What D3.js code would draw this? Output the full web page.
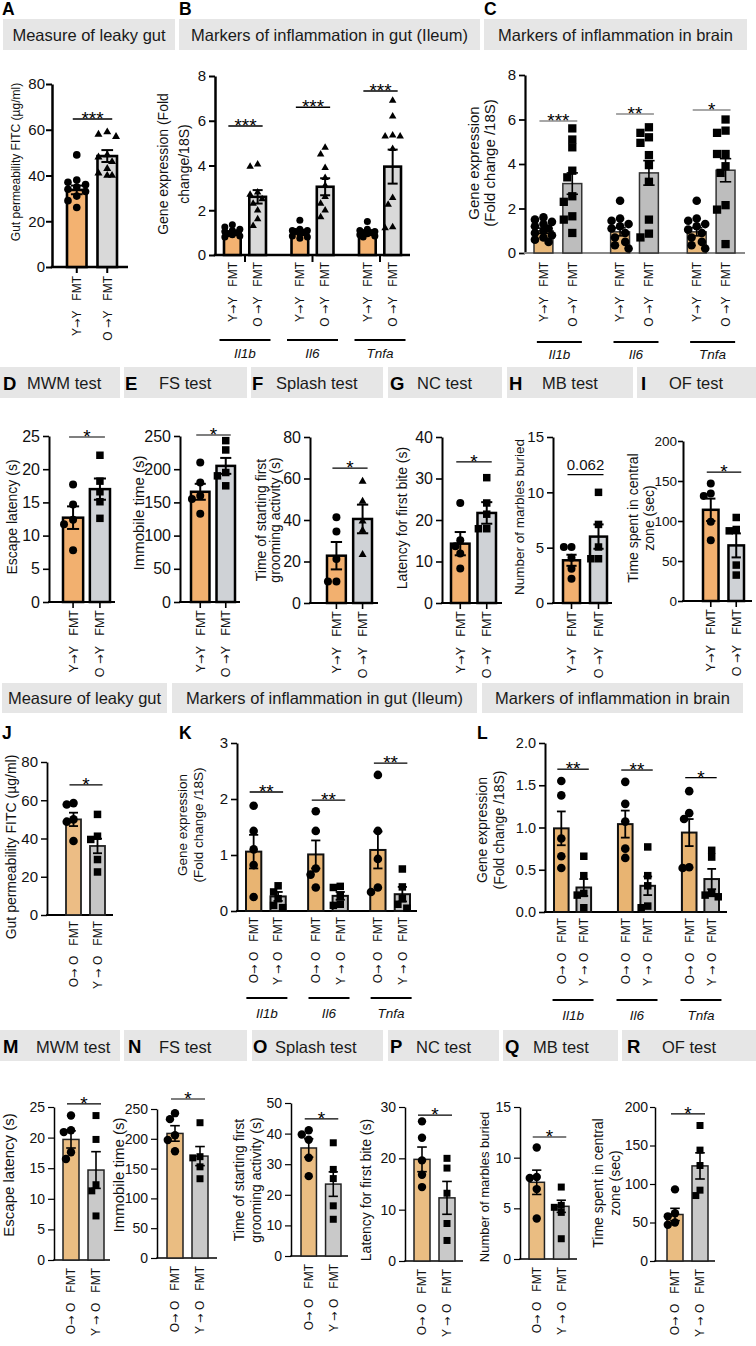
<!DOCTYPE html>
<html><head><meta charset="utf-8">
<script src="https://cdn.jsdelivr.net/npm/d3@7"></script>
<style>body{margin:0;background:#fff;} svg{display:block;}</style>
</head><body><div id="chart"></div>
<script>
// ================= DATA =================
const row1Headers = ["Measure of leaky gut", "Markers of inflammation in gut (Ileum)", "Markers of inflammation in brain"];
const row1Letters = ["A", "B", "C"];
const row2Letters = ["D", "E", "F", "G", "H", "I"];
const testNames = ["MWM test", "FS test", "Splash test", "NC test", "MB test", "OF test"];
const row3Letters = ["J", "K", "L"];
const row4Letters = ["M", "N", "O", "P", "Q", "R"];
const condsYoungRecip = ["Y\u2192Y   FMT", "O \u2192Y   FMT"];
const condsOldRecip = ["O\u2192 O   FMT", "Y \u2192 O   FMT"];
const genes = ["Il1b", "Il6", "Tnfa"];

// A
const A_ticks = [0, 20, 40, 60, 80];
const A_means = [33.7, 48.5];
const A_sems = [1.9, 2.6];
const A_ptsYY = [49, 38, 37, 36, 35, 34, 33, 31, 29, 26];
const A_ptsOY = [59, 58, 57, 49, 48, 46, 43, 41, 40, 40];
// B
const B_ticks = [0, 2, 4, 6, 8];
const B_meansYY = [1.0, 1.05, 1.03];
const B_semsYY = [0.06, 0.08, 0.07];
const B_meansOY = [2.6, 3.05, 3.95];
const B_semsOY = [0.3, 0.38, 0.76];
const B_ptsYY = [[1.35, 1.25, 1.15, 1.1, 1.05, 1.0, 0.95, 0.9, 0.85, 0.8], [1.55, 1.15, 1.1, 1.1, 1.05, 1.0, 0.95, 0.85, 0.8, 0.75], [1.5, 1.15, 1.1, 1.05, 1.0, 1.0, 0.95, 0.9, 0.85, 0.8]];
const B_ptsOY = [[4.05, 3.95, 2.8, 2.7, 2.5, 2.3, 2.0, 1.6, 1.3], [4.8, 4.5, 3.9, 3.45, 3.1, 2.6, 2.3, 2.0, 1.7], [6.9, 6.2, 5.35, 5.3, 5.3, 4.75, 2.55, 2.25, 1.25, 1.2]];
const B_sig = ["***", "***", "***"];
// C
const C_ticks = [0, 2, 4, 6, 8];
const C_meansYY = [1.0, 0.95, 0.95];
const C_semsYY = [0.12, 0.18, 0.18];
const C_meansOY = [3.12, 3.6, 3.72];
const C_semsOY = [0.48, 0.55, 0.52];
const C_ptsYY = [[1.6, 1.5, 1.4, 1.3, 1.2, 1.1, 1.0, 0.9, 0.8, 0.7, 0.6, 0.5], [2.35, 1.55, 1.45, 1.3, 1.2, 1.1, 0.9, 0.7, 0.5, 0.35, 0.2], [2.35, 1.55, 1.45, 1.3, 1.2, 1.05, 0.9, 0.7, 0.5, 0.35, 0.2]];
const C_ptsOY = [[5.6, 5.1, 4.75, 3.7, 3.4, 2.55, 2.3, 1.65, 1.5, 0.9], [5.65, 5.4, 5.2, 4.95, 4.4, 3.95, 3.2, 1.5, 0.87, 0.7], [6.0, 5.5, 5.4, 4.45, 4.45, 3.9, 3.6, 2.15, 1.95, 0.4]];
const C_sig = ["***", "**", "*"];
// D
const D_ticks = [0, 5, 10, 15, 20, 25];
const D_means = [12.7, 17.0], D_sems = [1.7, 1.6];
const D_ptsYY = [17.7, 14.7, 12.4, 11.7, 7.8], D_ptsOY = [22.1, 18.2, 16.6, 15.1, 12.6];
// E
const E_ticks = [0, 50, 100, 150, 200, 250];
const E_means = [166, 205], E_sems = [12, 12];
const E_ptsYY = [210, 180, 160, 155, 133], E_ptsOY = [243, 229, 195, 190, 175];
// F
const F_ticks = [0, 20, 40, 60, 80];
const F_means = [22.8, 40.5], F_sems = [6.6, 6.9];
const F_ptsYY = [41.3, 34.5, 21.2, 10.4, 10.4], F_ptsOY = [58.6, 49, 39.4, 35, 23.3];
// G
const G_ticks = [0, 10, 20, 30, 40];
const G_means = [14.3, 21.7], G_sems = [2.8, 2.6];
const G_ptsYY = [24.1, 15.1, 13.7, 11.9, 8.3], G_ptsOY = [30.2, 24.1, 21.4, 17.9, 17.9];
// H
const H_ticks = [0, 5, 10, 15];
const H_means = [3.86, 6.0], H_sems = [0.5, 1.1];
const H_ptsYY = [5.06, 5.06, 4.1, 3.1, 2.2], H_ptsOY = [10, 7.1, 5.06, 4.0, 4.0];
// I
const I_ticks = [0, 50, 100, 150, 200];
const I_means = [114, 69.5], I_sems = [14, 15];
const I_ptsYY = [146.8, 134.3, 131.4, 99, 76], I_ptsOY = [104.4, 89.4, 87.7, 44.9, 32.4];
// J
const J_ticks = [0, 20, 40, 60, 80];
const J_means = [50, 36.1], J_sems = [3.5, 3.8];
const J_ptsOO = [58.5, 57.8, 50, 48.8, 38.7], J_ptsYO = [52.6, 41.2, 39.5, 29, 22.5];
// K
const K_ticks = [0, 1, 2, 3];
const K_meansOO = [1.06, 1.01, 1.09], K_semsOO = [0.3, 0.25, 0.33];
const K_meansYO = [0.26, 0.27, 0.3], K_semsYO = [0.08, 0.07, 0.13];
const K_ptsOO = [[1.88, 1.43, 1.1, 0.82, 0.25], [1.78, 1.43, 0.76, 0.65, 0.42], [2.43, 1.43, 0.93, 0.42, 0.34]];
const K_ptsYO = [[0.45, 0.34, 0.22, 0.1, 0.06], [0.44, 0.42, 0.28, 0.12, 0.1], [0.75, 0.43, 0.22, 0.12, 0.05]];
const K_sig = ["**", "**", "**"];
// L
const L_ticks = [0, 0.5, 1, 1.5, 2];
const L_meansOO = [0.99, 1.04, 0.94], L_semsOO = [0.2, 0.16, 0.16];
const L_meansYO = [0.29, 0.31, 0.39], L_semsYO = [0.1, 0.11, 0.12];
const L_ptsOO = [[1.55, 1.38, 0.87, 0.66, 0.52], [1.54, 1.28, 1.07, 0.75, 0.64], [1.43, 1.17, 1.1, 0.53, 0.52]];
const L_ptsYO = [[0.66, 0.43, 0.22, 0.2, 0.05], [0.77, 0.43, 0.31, 0.07, 0.05], [0.73, 0.65, 0.22, 0.2, 0.18]];
const L_sig = ["**", "**", "*"];
// M
const M_ticks = [0, 5, 10, 15, 20, 25];
const M_means = [19.7, 14.7], M_sems = [1.4, 3.0];
const M_ptsOO = [23.6, 21.2, 20.9, 17.6, 16.5], M_ptsYO = [23.6, 19.7, 12.3, 11.3, 7.2];
// N
const N_ticks = [0, 50, 100, 150, 200, 250];
const N_means = [209, 171], N_sems = [13, 16];
const N_ptsOO = [243, 233, 206, 198, 179], N_ptsYO = [227, 170, 168, 153, 133];
// O
const O_ticks = [0, 10, 20, 30, 40, 50];
const O_means = [35.3, 23.5], O_sems = [3.0, 4.0];
const O_ptsOO = [41.1, 39.7, 38, 32.1, 26.1], O_ptsYO = [37, 28.3, 25.3, 16.4, 12];
// P
const P_ticks = [0, 10, 20, 30];
const P_means = [19.8, 12.3], P_sems = [2.4, 3.2];
const P_ptsOO = [27.2, 24, 19.6, 16.8, 14.4], P_ptsYO = [20, 18.1, 13.2, 7.3, 4.0];
// Q
const Q_ticks = [0, 5, 10, 15];
const Q_means = [7.57, 5.2], Q_sems = [1.2, 0.6];
const Q_ptsOO = [11, 8.1, 8.0, 6.9, 4.0], Q_ptsYO = [7.1, 5.3, 5.1, 4.6, 2.0];
// R
const R_ticks = [0, 50, 100, 150, 200];
const R_means = [60.4, 123.5], R_sems = [8, 17];
const R_ptsOO = [93, 62, 58, 50, 47], R_ptsYO = [176, 144, 124, 92, 85];

// ================= STYLE / LAYOUT =================
const FONT = "'Liberation Sans', Arial, Helvetica, sans-serif";
const ARROW_FONT = "'DejaVu Sans', sans-serif";
const svg = d3.select("#chart").append("svg").attr("width", 756).attr("height", 1346)
  .style("font-family", FONT);

const ST1 = {fills: ["#F3B271", "#D9D9D9"], stroke: "#000", strokeW: 2.6, axisW: 2.5, xAxis: "#000", errW: 2, sigColor: "#000", sigW: 1.5, star: 19};
const ST1C = {fills: ["#E9B97A", "#BDBDBD"], stroke: "#333", strokeW: 1.5, axisW: 2.2, xAxis: "#8a8a8a", errW: 1.6, sigColor: "#8a8a8a", sigW: 1.6, star: 19};
const ST2 = {fills: ["#F2B06F", "#CFD2D6"], stroke: "#000", strokeW: 2.5, axisW: 2, xAxis: "#000", errW: 2, sigColor: "#000", sigW: 1.2, star: 19};
const ST3J = {fills: ["#ECBD85", "#C6C6C6"], stroke: "#222", strokeW: 1.8, axisW: 1.8, xAxis: "#000", errW: 1.8, sigColor: "#000", sigW: 1.2, star: 19};
const ST3 = {fills: ["#E8B472", "#BFBFBF"], stroke: "#111", strokeW: 2, axisW: 2, xAxis: "#000", errW: 1.8, sigColor: "#000", sigW: 1.3, star: 19};
const ST4 = {fills: ["#EABD82", "#C9C9C9"], stroke: "#222", strokeW: 1.5, axisW: 1.5, xAxis: "#000", errW: 1.6, sigColor: "#000", sigW: 1.2, star: 19};

function simple(means, sems, p1, p2, sig) {
  return [{means: means, sems: sems, pts: [p1, p2], sig: sig}];
}
function grouped(m1, s1, m2, s2, p1, p2, sig) {
  return d3.range(m1.length).map(i => ({means: [m1[i], m2[i]], sems: [s1[i], s2[i]], pts: [p1[i], p2[i]], sig: sig[i]}));
}

const symGen = {
  circle: r => d3.symbol().type(d3.symbolCircle).size(Math.PI * r * r)(),
  square: s => d3.symbol().type(d3.symbolSquare).size(s * s)(),
  triangle: s => d3.symbol().type(d3.symbolTriangle).size(Math.sqrt(3) / 4 * s * s)()
};

function swarm(vals, y, cx, maxHalf, diam) {
  const items = vals.map(v => ({v: v, py: y(v)})).sort((a, b) => a.py - b.py);
  const placed = [];
  const step = diam * 0.6;
  items.forEach(it => {
    let best = null, bestD = -1;
    for (let k = 0; k < 12; k++) {
      const mag = Math.ceil(k / 2) * step * (k % 2 === 1 ? -1 : 1);
      const off = Math.max(-maxHalf, Math.min(maxHalf, mag));
      let minD = Infinity;
      placed.forEach(p => { minD = Math.min(minD, Math.hypot(p.px - (cx + off), p.py - it.py)); });
      if (minD >= diam * 0.9) { best = off; break; }
      if (minD > bestD) { bestD = minD; best = off; }
    }
    it.px = cx + best;
    placed.push(it);
  });
  return placed;
}

function arrowText(sel, label) {
  const parts = label.split("\u2192");
  parts.forEach((p, i) => {
    if (i > 0) sel.append("tspan").attr("font-family", ARROW_FONT).attr("font-size", "0.95em").text("\u2192");
    sel.append("tspan").text(p);
  });
}

function drawPanel(P, D) {
  const S = P.style;
  const g = svg.append("g");
  const y = d3.scaleLinear().domain([0, D.ticks[D.ticks.length - 1]]).range([P.yBot, P.yTop]);
  const keys = D.groups.map((d, i) => i);
  const outer = d3.scaleBand().domain(keys).range(P.range).paddingInner(P.gPad || 0).paddingOuter(0);
  const inner = d3.scaleBand().domain([0, 1]).range([0, outer.bandwidth()]).paddingInner(P.iPad);
  const bw = inner.bandwidth();
  const cx = (gi, ci) => outer(gi) + inner(ci) + bw / 2;

  const yAxis = d3.axisLeft(y).tickValues(D.ticks).tickSize(P.tickSize || 6).tickSizeOuter(0)
    .tickPadding(P.tickPad !== undefined ? P.tickPad : 3)
    .tickFormat(D.fmt ? d3.format(D.fmt) : d3.format("d"));
  const ga = g.append("g").attr("transform", `translate(${P.ax},0)`).call(yAxis);
  ga.attr("font-family", FONT).attr("font-size", P.tickFont);
  ga.select(".domain").attr("stroke", "#000").attr("stroke-width", S.axisW);
  ga.selectAll(".tick line").attr("stroke", "#000").attr("stroke-width", S.axisW * 0.8);
  ga.selectAll(".tick text").attr("fill", "#111");

  g.append("line").attr("x1", P.ax - S.axisW / 2).attr("x2", P.axEnd).attr("y1", P.yBot).attr("y2", P.yBot)
    .attr("stroke", S.xAxis).attr("stroke-width", S.axisW);
  if (P.xTicks === "bars") {
    keys.forEach(gi => [0, 1].forEach(ci => {
      g.append("line").attr("x1", cx(gi, ci)).attr("x2", cx(gi, ci)).attr("y1", P.yBot).attr("y2", P.yBot + 6)
        .attr("stroke", "#000").attr("stroke-width", S.axisW * 0.8);
    }));
  } else if (P.xTicks === "groups") {
    keys.forEach(gi => {
      const c = outer(gi) + outer.bandwidth() / 2;
      g.append("line").attr("x1", c).attr("x2", c).attr("y1", P.yBot).attr("y2", P.yBot + 7)
        .attr("stroke", "#000").attr("stroke-width", S.axisW * 0.8);
    });
  }

  D.groups.forEach((grp, gi) => {
    [0, 1].forEach(ci => {
      g.append("rect").attr("x", outer(gi) + inner(ci)).attr("width", bw)
        .attr("y", y(grp.means[ci])).attr("height", y(0) - y(grp.means[ci]))
        .attr("fill", S.fills[ci]).attr("stroke", S.stroke).attr("stroke-width", S.strokeW);
    });
    [0, 1].forEach(ci => {
      const c = cx(gi, ci), cap = bw * 0.3;
      const lo = y(grp.means[ci] - grp.sems[ci]), hi = y(grp.means[ci] + grp.sems[ci]);
      g.append("line").attr("x1", c).attr("x2", c).attr("y1", lo).attr("y2", hi).attr("stroke", "#000").attr("stroke-width", S.errW);
      [lo, hi].forEach(yy => g.append("line").attr("x1", c - cap).attr("x2", c + cap).attr("y1", yy).attr("y2", yy)
        .attr("stroke", "#000").attr("stroke-width", S.errW));
    });
    [0, 1].forEach(ci => {
      const shape = P.shapes[ci];
      const sz = P.sizes[ci];
      const diam = shape === "circle" ? sz * 2 : sz;
      const pts = swarm(grp.pts[ci], y, cx(gi, ci), bw * 0.45, diam);
      g.selectAll(null).data(pts).enter().append("path")
        .attr("d", symGen[shape](sz))
        .attr("transform", d => `translate(${d.px},${d.py})`)
        .attr("fill", "#000");
    });
    const sy = y(P.sigAt[gi]);
    const x1 = cx(gi, 0) - 4, x2 = cx(gi, 1) + 5;
    g.append("line").attr("x1", x1).attr("x2", x2).attr("y1", sy).attr("y2", sy)
      .attr("stroke", S.sigColor).attr("stroke-width", S.sigW);
    if (/^\*+$/.test(grp.sig)) {
      g.append("text").attr("x", (x1 + x2) / 2).attr("y", sy + 6).attr("text-anchor", "middle")
        .attr("font-size", S.star).attr("fill", "#000").text(grp.sig);
    } else {
      g.append("text").attr("x", (x1 + x2) / 2).attr("y", sy - 5).attr("text-anchor", "middle")
        .attr("font-size", 15).attr("fill", "#111").text(grp.sig);
    }
    [0, 1].forEach(ci => {
      const t = g.append("text").attr("transform", `translate(${cx(gi, ci)},${P.yBot + P.labelGap}) rotate(-90)`)
        .attr("text-anchor", "end").attr("dy", "0.36em").attr("font-size", P.labelFont).attr("fill", "#111")
        .style("white-space", "pre");
      arrowText(t, D.conds[ci]);
    });
    if (P.gene) {
      const c = outer(gi) + outer.bandwidth() / 2 + (P.gene.shift || 0);
      g.append("line").attr("x1", c - P.gene.half).attr("x2", c + P.gene.half).attr("y1", P.gene.lineY).attr("y2", P.gene.lineY)
        .attr("stroke", "#000").attr("stroke-width", 2);
      g.append("text").attr("x", c).attr("y", P.gene.textY).attr("text-anchor", "middle")
        .attr("font-size", 13.5).attr("font-style", "italic").attr("fill", "#111").text(D.genes[gi]);
    }
  });

  D.title.forEach((t, i) => {
    g.append("text").attr("transform", `translate(${P.titleX[i]},${P.titleY}) rotate(-90)`)
      .attr("text-anchor", "middle").attr("dy", "0.36em").attr("font-size", P.titleFont).attr("fill", "#111").text(t);
  });
}

// ================= HEADERS =================
function headerBox(x0, x1, y0, y1) {
  svg.append("rect").attr("x", x0).attr("y", y0).attr("width", x1 - x0).attr("height", y1 - y0).attr("fill", "#E6E6E6");
}
function bigLetter(t, x, y, fs) {
  svg.append("text").attr("x", x).attr("y", y).attr("font-size", fs).attr("font-weight", "bold").attr("fill", "#000").text(t);
}
const r1Boxes = [[3, 175], [179, 480], [484, 747]];
const r3Boxes = [[2, 167], [172, 477], [482, 743]];
r1Boxes.forEach((b, i) => {
  headerBox(b[0], b[1], 19, 50);
  svg.append("text").attr("x", (b[0] + b[1]) / 2).attr("y", 41).attr("text-anchor", "middle").attr("font-size", 16.5).attr("fill", "#1a1a1a").text(row1Headers[i]);
});
[[2, 15], [179, 15], [484, 15]].forEach((p, i) => bigLetter(row1Letters[i], p[0], p[1], 17.5));
r3Boxes.forEach((b, i) => {
  headerBox(b[0], b[1], 683, 713);
  svg.append("text").attr("x", (b[0] + b[1]) / 2).attr("y", 704).attr("text-anchor", "middle").attr("font-size", 16.5).attr("fill", "#1a1a1a").text(row1Headers[i]);
});
[[2, 739], [179, 739], [477, 739]].forEach((p, i) => bigLetter(row3Letters[i], p[0], p[1], 17.5));

const r2Boxes = [[0, 120], [124, 247], [251, 383], [388, 502], [507, 633], [637, 756]];
const r2LetterX = [3, 125, 252, 390, 509, 641];
const r2TextX = [27, 159, 276, 417, 542, 669];
r2Boxes.forEach((b, i) => {
  headerBox(b[0], b[1], 367, 398);
  bigLetter(row2Letters[i], r2LetterX[i], 390, 18.5);
  svg.append("text").attr("x", r2TextX[i]).attr("y", 389).attr("font-size", 16.5).attr("fill", "#1a1a1a").text(testNames[i]);
});
const r4Boxes = [[0, 120], [124, 247], [252, 383], [388, 499], [503, 618], [622, 756]];
const r4LetterX = [3, 128, 253, 390, 505, 627];
const r4TextX = [36, 159, 275, 416, 533, 662];
r4Boxes.forEach((b, i) => {
  headerBox(b[0], b[1], 1030, 1061);
  bigLetter(row4Letters[i], r4LetterX[i], 1053, 18.5);
  svg.append("text").attr("x", r4TextX[i]).attr("y", 1053).attr("font-size", 16.5).attr("fill", "#1a1a1a").text(testNames[i]);
});

// ================= PANELS =================
// Row 1
drawPanel({ax: 52, axEnd: 128, yTop: 84, yBot: 267, range: [67, 117], iPad: 0.36, sigAt: [64.7], tickFont: 15, tickPad: 1,
  titleX: [16], titleY: 162, titleFont: 12, labelGap: 9, labelFont: 12, xTicks: "bars", style: ST1,
  shapes: ["circle", "triangle"], sizes: [3.8, 8]},
  {ticks: A_ticks, conds: condsYoungRecip, groups: simple(A_means, A_sems, A_ptsYY, A_ptsOY, "***"),
   title: ["Gut permeability FITC (\u00b5g/ml)"]});

drawPanel({ax: 215, axEnd: 410, yTop: 76, yBot: 255, range: [224, 401], gPad: 0.378, iPad: 0.34, sigAt: [5.77, 6.6, 7.33], tickFont: 15,
  titleX: [163, 184], titleY: 164, titleFont: 14, labelGap: 7, labelFont: 12, xTicks: "groups", style: ST1,
  shapes: ["circle", "triangle"], sizes: [3.5, 7.5], gene: {lineY: 340, textY: 358, half: 25.5}},
  {ticks: B_ticks, conds: condsYoungRecip, genes: genes,
   groups: grouped(B_meansYY, B_semsYY, B_meansOY, B_semsOY, B_ptsYY, B_ptsOY, B_sig),
   title: ["Gene expression (Fold", "change/18S)"]});

drawPanel({ax: 525, axEnd: 745, yTop: 75, yBot: 253, range: [534, 735], gPad: 0.377, iPad: 0.345, sigAt: [5.93, 6.25, 6.43], tickFont: 15,
  titleX: [474, 490], titleY: 163, titleFont: 15, labelGap: 9, labelFont: 12, xTicks: "none", style: ST1C,
  shapes: ["circle", "square"], sizes: [4.3, 8.3], gene: {lineY: 342, textY: 359, half: 22.5, shift: 1.5}},
  {ticks: C_ticks, conds: condsYoungRecip, genes: genes,
   groups: grouped(C_meansYY, C_semsYY, C_meansOY, C_semsOY, C_ptsYY, C_ptsOY, C_sig),
   title: ["Gene expression", "(Fold change /18S)"]});

// Row 2
const R2 = {yTop: 436, yBot: 602, tickFont: 16, labelGap: 8, labelFont: 12.5, xTicks: "bars", style: ST2};
drawPanel(Object.assign({}, R2, {ax: 49, axEnd: 115, range: [63, 110], iPad: 0.25, sigAt: [24.85],
  titleX: [12], titleY: 517, titleFont: 14, shapes: ["circle", "square"], sizes: [4, 7.5]}),
  {ticks: D_ticks, conds: condsYoungRecip, groups: simple(D_means, D_sems, D_ptsYY, D_ptsOY, "*"), title: ["Escape latency (s)"]});
drawPanel(Object.assign({}, R2, {ax: 180, axEnd: 240, range: [191, 235], iPad: 0.275, sigAt: [251.5],
  titleX: [139], titleY: 513, titleFont: 15, shapes: ["circle", "square"], sizes: [4, 7.5]}),
  {ticks: E_ticks, conds: condsYoungRecip, groups: simple(E_means, E_sems, E_ptsYY, E_ptsOY, "*"), title: ["Immobile time (s)"]});
drawPanel(Object.assign({}, R2, {ax: 310, axEnd: 378, yTop: 437, yBot: 603, range: [327, 372], iPad: 0.28, sigAt: [65],
  titleX: [261, 275], titleY: 520, titleFont: 14, shapes: ["circle", "triangle"], sizes: [4, 8]}),
  {ticks: F_ticks, conds: condsYoungRecip, groups: simple(F_means, F_sems, F_ptsYY, F_ptsOY, "*"), title: ["Time of starting first", "grooming activity (s)"]});
drawPanel(Object.assign({}, R2, {ax: 442, axEnd: 502, yTop: 437, yBot: 603, range: [451, 496], iPad: 0.3, sigAt: [34],
  titleX: [402], titleY: 518, titleFont: 14, shapes: ["circle", "square"], sizes: [4, 7.5]}),
  {ticks: G_ticks, conds: condsYoungRecip, groups: simple(G_means, G_sems, G_ptsYY, G_ptsOY, "*"), title: ["Latency for first bite (s)"]});
drawPanel(Object.assign({}, R2, {ax: 553, axEnd: 612, yTop: 437, yBot: 603, range: [563, 607], iPad: 0.37, sigAt: [11.6],
  tickFont: 15, titleX: [519], titleY: 517, titleFont: 13.5, shapes: ["circle", "square"], sizes: [4, 7.5]}),
  {ticks: H_ticks, conds: condsYoungRecip, groups: simple(H_means, H_sems, H_ptsYY, H_ptsOY, "0.062"), title: ["Number of marbles buried"]});
drawPanel(Object.assign({}, R2, {ax: 683, axEnd: 752, yTop: 441, yBot: 601, range: [703, 744], iPad: 0.39, sigAt: [161],
  tickFont: 13.5, tickSize: 5, tickPad: 1, titleX: [633, 649], titleY: 518, titleFont: 14, shapes: ["circle", "square"], sizes: [4, 7.5]}),
  {ticks: I_ticks, conds: condsYoungRecip, groups: simple(I_means, I_sems, I_ptsYY, I_ptsOY, "*"), title: ["Time spent in central", "zone (sec)"]});

// Row 3
drawPanel({ax: 47, axEnd: 113, yTop: 762, yBot: 915, range: [66, 105], iPad: 0.375, sigAt: [68], tickFont: 15,
  titleX: [11], titleY: 847, titleFont: 14, labelGap: 6, labelFont: 12, xTicks: "none", style: ST3J,
  shapes: ["circle", "square"], sizes: [4.3, 7.5]},
  {ticks: J_ticks, conds: condsOldRecip, groups: simple(J_means, J_sems, J_ptsOO, J_ptsYO, "*"), title: ["Gut permeability FITC (\u00b5g/ml)"]});
drawPanel({ax: 237, axEnd: 417, yTop: 743, yBot: 911, range: [246, 410], gPad: 0.36, iPad: 0.375, sigAt: [2.125, 1.98, 2.64], tickFont: 15,
  titleX: [182, 198], titleY: 825, titleFont: 13.5, labelGap: 6, labelFont: 12, xTicks: "none", style: ST3,
  shapes: ["circle", "square"], sizes: [4.3, 7.5], gene: {lineY: 998, textY: 1018, half: 20.5, shift: 1}},
  {ticks: K_ticks, conds: condsOldRecip, genes: genes,
   groups: grouped(K_meansOO, K_semsOO, K_meansYO, K_semsYO, K_ptsOO, K_ptsYO, K_sig),
   title: ["Gene expression", "(Fold change /18S)"]});
drawPanel({ax: 545, axEnd: 727, yTop: 743, yBot: 912, range: [554, 719], gPad: 0.42, iPad: 0.35, sigAt: [1.69, 1.68, 1.59], tickFont: 14.5,
  titleX: [482, 499], titleY: 830, titleFont: 14, labelGap: 6, labelFont: 12, xTicks: "none", style: ST3,
  shapes: ["circle", "square"], sizes: [4.3, 7.5], gene: {lineY: 1000, textY: 1020, half: 20.5, shift: 0.5}},
  {ticks: L_ticks, fmt: ".1f", conds: condsOldRecip, genes: genes,
   groups: grouped(L_meansOO, L_semsOO, L_meansYO, L_semsYO, L_ptsOO, L_ptsYO, L_sig),
   title: ["Gene expression", "(Fold change /18S)"]});

// Row 4
const R4 = {tickFont: 14, labelGap: 8, labelFont: 12, xTicks: "none", style: ST4, shapes: ["circle", "square"], sizes: [4.2, 7]};
drawPanel(Object.assign({}, R4, {ax: 54, axEnd: 110, yTop: 1107, yBot: 1260, range: [63, 104], iPad: 0.36, sigAt: [25.5],
  titleX: [9], titleY: 1175, titleFont: 15}),
  {ticks: M_ticks, conds: condsOldRecip, groups: simple(M_means, M_sems, M_ptsOO, M_ptsYO, "*"), title: ["Escape latency (s)"]});
drawPanel(Object.assign({}, R4, {ax: 157, axEnd: 217, yTop: 1109, yBot: 1258, range: [167, 208], iPad: 0.36, sigAt: [266.8],
  titleX: [119], titleY: 1175, titleFont: 15}),
  {ticks: N_ticks, conds: condsOldRecip, groups: simple(N_means, N_sems, N_ptsOO, N_ptsYO, "*"), title: ["Immobile time (s)"]});
drawPanel(Object.assign({}, R4, {ax: 291, axEnd: 348, yTop: 1103, yBot: 1256, range: [301, 341], iPad: 0.37, sigAt: [44.8],
  titleX: [239, 256], titleY: 1180, titleFont: 14}),
  {ticks: O_ticks, conds: condsOldRecip, groups: simple(O_means, O_sems, O_ptsOO, O_ptsYO, "*"), title: ["Time of starting first", "grooming activity (s)"]});
drawPanel(Object.assign({}, R4, {ax: 405, axEnd: 463, yTop: 1107, yBot: 1261, range: [414, 455], iPad: 0.36, sigAt: [28.4],
  titleX: [366], titleY: 1190, titleFont: 14}),
  {ticks: P_ticks, conds: condsOldRecip, groups: simple(P_means, P_sems, P_ptsOO, P_ptsYO, "*"), title: ["Latency for first bite (s)"]});
drawPanel(Object.assign({}, R4, {ax: 520, axEnd: 577, yTop: 1107, yBot: 1259, range: [529, 569], iPad: 0.37, sigAt: [12.04],
  titleX: [484], titleY: 1187, titleFont: 13}),
  {ticks: Q_ticks, conds: condsOldRecip, groups: simple(Q_means, Q_sems, Q_ptsOO, Q_ptsYO, "*"), title: ["Number of marbles buried"]});
drawPanel(Object.assign({}, R4, {ax: 655, axEnd: 715, yTop: 1107, yBot: 1261, range: [667, 708], iPad: 0.36, sigAt: [191],
  tickSize: 5, tickPad: 2, titleX: [598, 615], titleY: 1183, titleFont: 14}),
  {ticks: R_ticks, conds: condsOldRecip, groups: simple(R_means, R_sems, R_ptsOO, R_ptsYO, "*"), title: ["Time spent in central", "zone (sec)"]});
</script></body></html>
